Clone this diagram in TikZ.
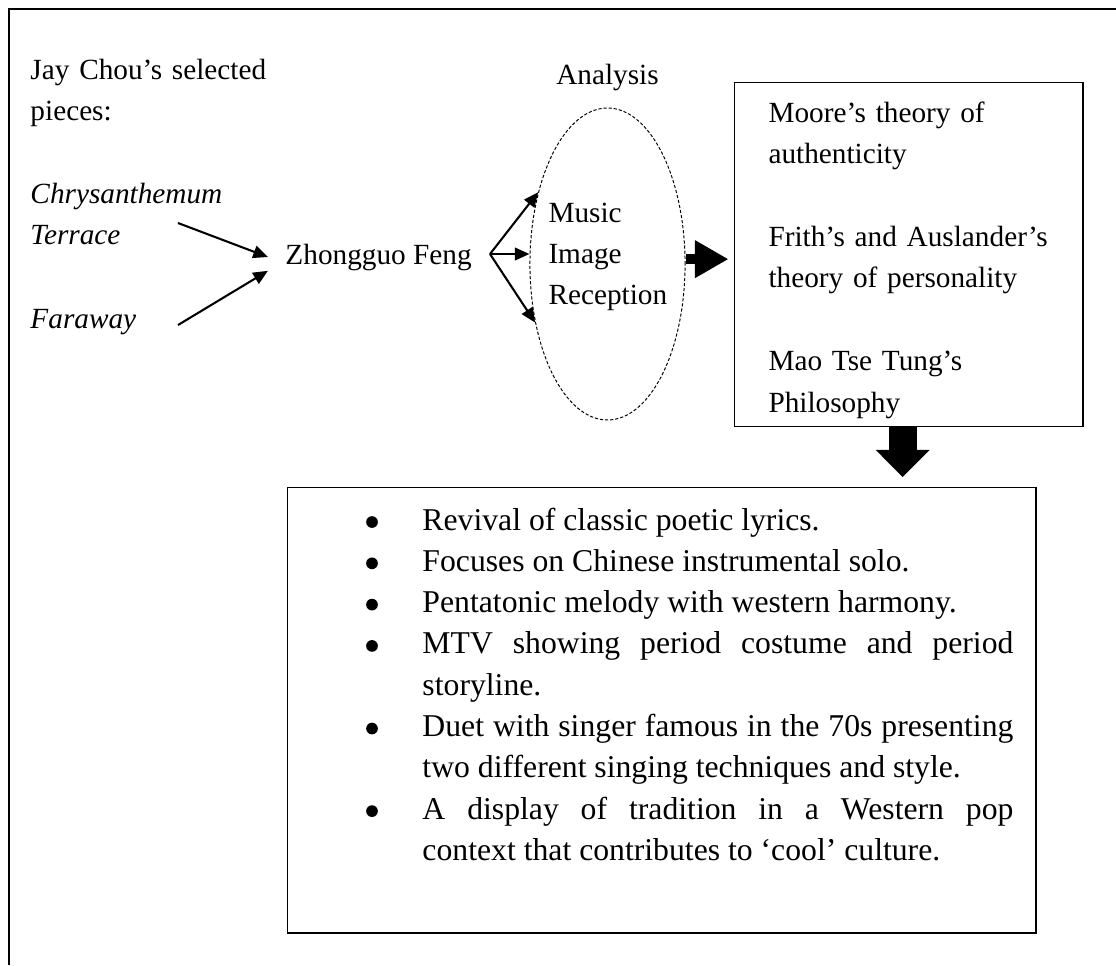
\documentclass[tikz,border=0pt]{standalone}
\usepackage{fontspec}
\setmainfont{Liberation Serif}
\usetikzlibrary{arrows.meta,shapes.geometric,positioning}

\tikzset{
  txt/.style={inner sep=0pt, anchor=base west, align=left,
    font={\fontsize{12}{17}\selectfont}},
  itm/.style={inner sep=0pt, anchor=base west, align=justify, text width=242.3pt,
    font={\fontsize{13}{16.93}\selectfont\hyphenpenalty=10000}},
  arr/.style={-{Triangle[length=6pt,width=5.2pt]}, line width=0.85pt},
  box/.style={draw, line width=0.6pt, inner sep=0pt, anchor=north west},
}

\begin{document}
\begin{tikzpicture}[x=0.41pt, y=-0.41pt]
\useasboundingbox (0,0) rectangle (1116,965);
% outer frame, cut off at right and bottom
\draw[line width=0.9pt] (9,965) -- (9,9) -- (1116,9);

% selected pieces
\node[txt, text width=110pt] (jay) at (30,79) {Jay Chou's selected\\pieces:};
\node[txt, text width=110pt] (chr) at (30,203) {\textit{Chrysanthemum}\\\textit{Terrace}};
\node[txt] (far) at (30,328) {\textit{Faraway}};
\node[txt] (zg) at (285,264) {Zhongguo Feng};
\coordinate (c1) at (178,223);
\coordinate (c2) at (178,325);
\draw[arr] (c1) -- ([xshift=-7pt]zg.west);
\draw[arr] (c2) -- ([xshift=-7pt]zg.south west);

% analysis oval
\node[draw, ellipse, dash pattern=on 1.3pt off 0.8pt, line width=0.4pt,
  minimum width=63.6pt, minimum height=127.9pt, inner sep=0pt] (ana) at (607.5,264) {};
\node[inner sep=0pt, font={\fontsize{12}{17}\selectfont}, above=6.8pt of ana] (anat) {Analysis};
\node[txt, text width=55pt] (mir) at (548,222) {Music\\Image\\Reception};
\coordinate (fan) at (490,254);
\draw[arr] (fan) -- (ana.134);
\draw[arr] (fan) -- (fan -| ana.west);
\draw[arr] (fan) -- (ana.219);

% theories
\node[box, minimum width=142.7pt, minimum height=141pt] (thy) at (734,82) {};
\node[txt, text width=130pt] (thyt) at (768,122) {Moore's theory of\\authenticity\\[17pt]Frith's and Auslander's\\theory of personality\\[17pt]Mao Tse Tung's\\Philosophy};

% findings
\node[box, minimum width=306.7pt, minimum height=182.5pt] (res) at (287,487) {};
\foreach \yy/\nm/\tx in {530/i1/{Revival of classic poetic lyrics.},
    571.3/i2/{Focuses on Chinese instrumental solo.},
    612.6/i3/{Pentatonic melody with western harmony.},
    653.9/i4/{MTV showing period costume and period\linebreak storyline.},
    736.5/i5/{Duet with singer famous in the 70s presenting\linebreak two different singing techniques and style.},
    819.1/i6/{A display of tradition in a Western pop\linebreak context that contributes to `cool' culture.}} {
  \fill (372,\yy-8) circle[radius=2.4pt];
  \node[itm] (\nm) at (422,\yy) {\tx};
}

% block arrows
\coordinate (ra) at ([yshift=2pt]ana.east);
\draw[line width=4.1pt, -{Triangle[length=13.5pt,width=15.6pt,line width=0pt]}, shorten >=2.5pt]
  (ra) -- (ra -| thy.west);
\coordinate (da) at ([xshift=-2.5pt]thy.south);
\draw[line width=11.5pt, -{Triangle[length=11.1pt,width=22.1pt,line width=0pt]}, shorten >=4.1pt]
  (da) -- (da |- res.north);
\end{tikzpicture}
\end{document}
